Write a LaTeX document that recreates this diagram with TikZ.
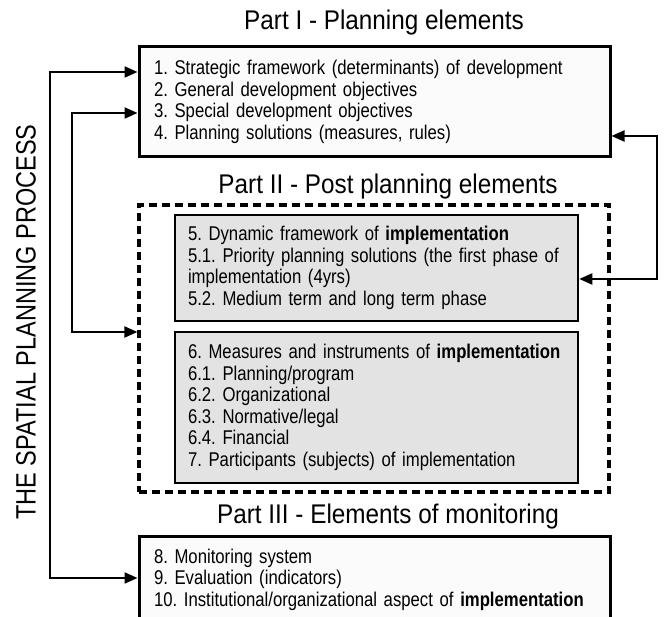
\documentclass[tikz,border=0pt]{standalone}
\usepackage{fontspec}
\setmainfont[FakeStretch=0.84]{Liberation Sans}
\newfontfamily\titlefont[FakeStretch=0.9]{Liberation Sans}
\usetikzlibrary{positioning}
\usetikzlibrary{arrows.meta}
\tikzset{
    spatial process/.style={
            x=1pt,y=1pt,
            partbox/.style={draw,line width=3pt,fill=gray!3,align=left,
                inner xsep=15pt,inner ysep=0pt,
                font=\fontsize{19.9}{21.5}\selectfont\frenchspacing},
            itembox/.style={partbox,line width=2.6pt,fill=gray!22,inner xsep=13pt},
            parttitle/.style={font=\titlefont\fontsize{27}{30}\selectfont,inner sep=0pt},
            biarrow/.style={{Triangle[length=13pt,width=11pt]}-{Triangle[length=13pt,width=11pt]},line width=2.2pt},
            arrow/.style={-{Triangle[length=13pt,width=11pt]},line width=2.2pt}
        }
    }

\begin{document}
\begin{tikzpicture}[spatial process]
        \useasboundingbox (0,0) rectangle (665,617);
        % part I
        \node (boxI) [partbox, text width=441pt, minimum height=110pt] at (374.5,515) {1. Strategic framework (determinants) of development\\2. General development objectives\\3. Special development objectives\\4. Planning solutions (measures, rules)};
        \node (titleI) [parttitle] at (384,594) {Part I - Planning elements};
        % part II
        \node (titleII) [parttitle] at (388,430) {Part II - Post planning elements};
        \node (postII) [draw, line width=3.2pt, dash pattern=on 8pt off 5pt, minimum width=470pt, minimum height=287pt] at (374,268.5) {};
        \node (boxV) [itembox, text width=377pt, minimum height=106pt] at (376.5,349) {5. Dynamic framework of \textbf{implementation}\\5.1. Priority planning solutions (the first phase of\\implementation (4yrs)\\5.2. Medium term and long term phase};
        \node (boxVI) [itembox, text width=377pt, minimum height=151pt] at (376.5,209.5) {6. Measures and instruments of \textbf{implementation}\\6.1. Planning/program\\6.2. Organizational\\6.3. Normative/legal\\6.4. Financial\\7. Participants (subjects) of implementation};
        % part III
        \node (titleIII) [parttitle] at (388,100) {Part III - Elements of monitoring};
        \node (boxIII) [partbox, text width=441pt, minimum height=110pt, anchor=north] at (374.5,82) {8. Monitoring system\\9. Evaluation (indicators)\\10. Institutional/organizational aspect of \textbf{implementation}\\\strut};
        \node (process) [rotate=90, font=\fontsize{28}{30}\selectfont, inner sep=0pt] at (26,295) {THE SPATIAL PLANNING PROCESS};
        % connectors
        \coordinate (railA) at (50,300);
        \coordinate (railB) at (72,400);
        \coordinate (railC) at (657,400);
        \draw [biarrow] ([yshift=30pt]boxI.west) -| (railA) |- ([yshift=-43pt]boxIII.north west);
        \draw [biarrow] ([yshift=-11pt]boxI.west) -| (railB) |- ([yshift=16.5pt]postII.west);
        \draw [biarrow] ([yshift=-34pt]boxI.east) -| (railC) |- ([yshift=-11pt]boxV.east);
    \end{tikzpicture}
\end{document}
